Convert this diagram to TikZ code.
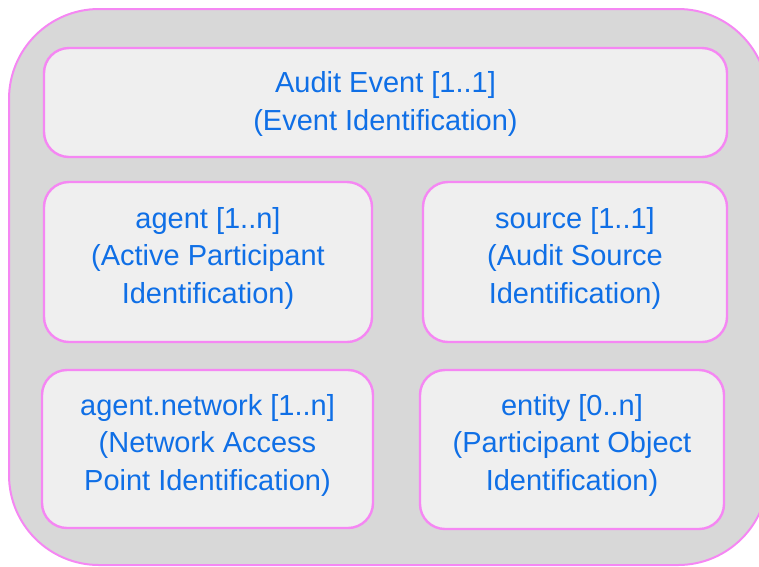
\documentclass[tikz,border=0pt]{standalone}
\usepackage{fontspec}
\setmainfont{Liberation Sans}
\definecolor{txtblue}{HTML}{0F6FE6}
\definecolor{pinkline}{HTML}{F587F3}
\definecolor{outerfill}{HTML}{D8D8D8}
\definecolor{innerfill}{HTML}{EFEFEF}
\begin{document}
\begin{tikzpicture}[x=1pt,y=-1pt,
  outerbox/.style={draw=pinkline, line width=2pt, fill=outerfill, rounded corners=90pt},
  itembox/.style={draw=pinkline, line width=2.4pt, fill=innerfill, rounded corners=25pt, inner sep=0pt},
  itemtext/.style={text=txtblue, align=center, font=\fontsize{29}{37.5}\selectfont, inner sep=0pt}]
\useasboundingbox (0,0) rectangle (759,566);
\begin{scope}
\clip (0,0) rectangle (759,566);
\draw[outerbox] (9,9) rectangle (768,565);
\end{scope}
% boxes
\draw[itembox] (44,48) rectangle (727,157);
\draw[itembox] (44,182) rectangle (372,342);
\draw[itembox] (423,182) rectangle (727,342);
\draw[itembox] (42,370) rectangle (373,528);
\draw[itembox] (420,370) rectangle (724,529);
% texts
\node[itemtext] (audit) at (385.5,104) {Audit Event [1..1]\\(Event Identification)};
\node[itemtext] (agent) at (208,258) {agent [1..n]\\(Active Participant\\Identification)};
\node[itemtext] (source) at (575,258) {source [1..1]\\(Audit Source\\Identification)};
\node[itemtext] (network) at (207.5,445) {agent.network [1..n]\\(Network Access\\Point Identification)};
\node[itemtext] (entity) at (572,445) {entity [0..n]\\(Participant Object\\Identification)};
\end{tikzpicture}
\end{document}
